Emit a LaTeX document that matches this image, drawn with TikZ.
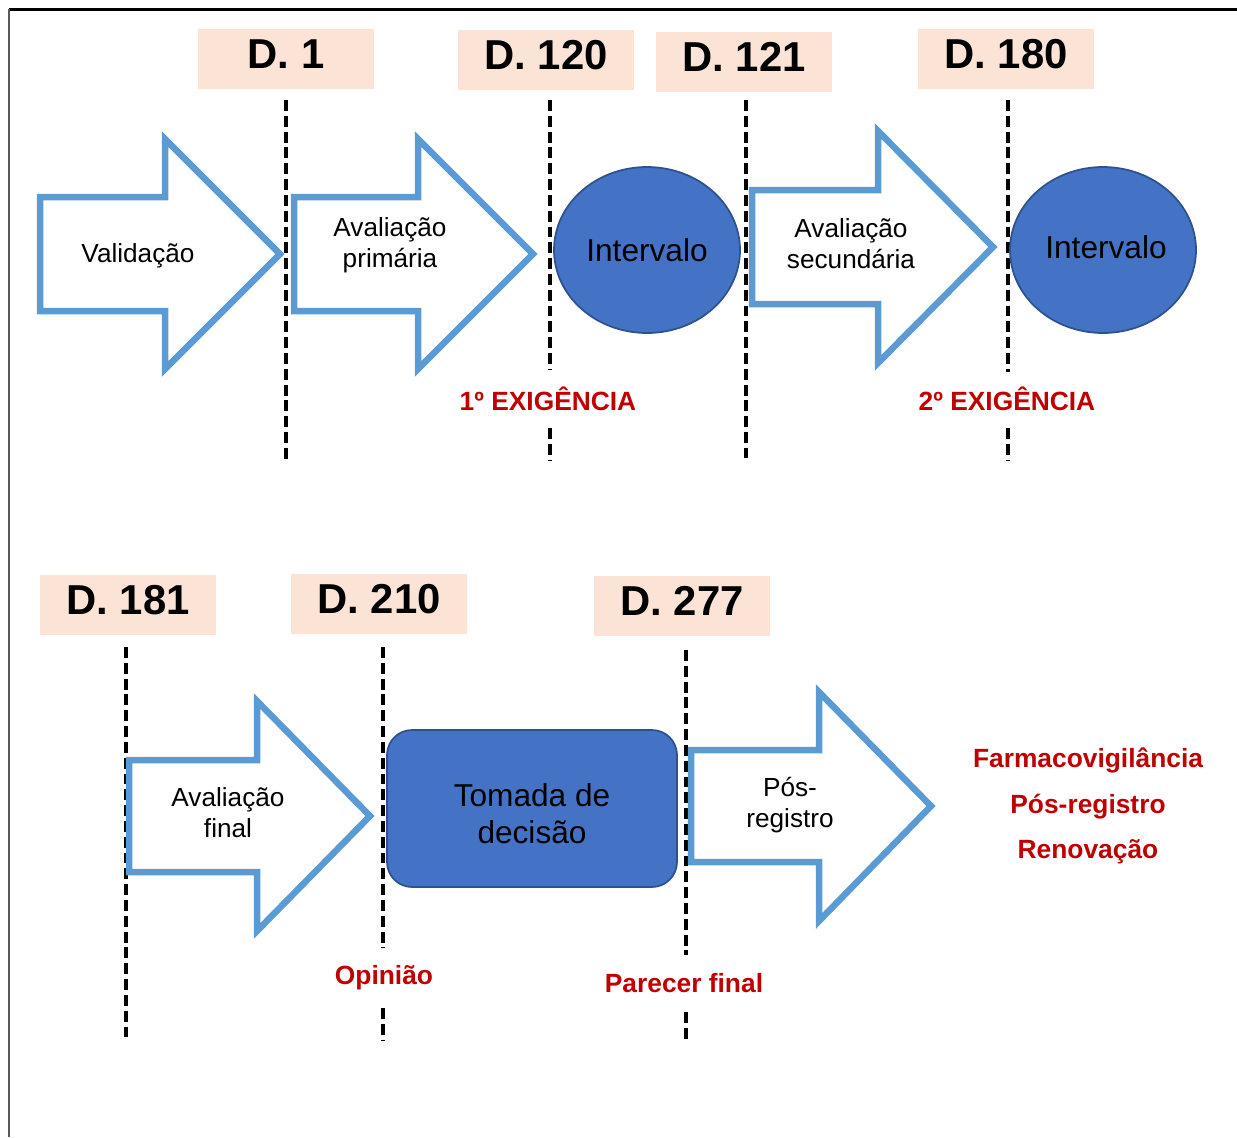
\documentclass[tikz,border=0pt]{standalone}
\usepackage{fontspec}
\setmainfont{Liberation Sans}
\usetikzlibrary{shapes.geometric}
\definecolor{arrowblue}{HTML}{5B9BD5}
\definecolor{fillblue}{HTML}{4472C4}
\definecolor{edgeblue}{HTML}{2F528F}
\definecolor{peach}{HTML}{FBE3D6}
\definecolor{darkred}{HTML}{C00000}
\begin{document}
\begin{tikzpicture}[x=0.02cm,y=-0.02cm,
  daybox/.style={fill=peach, minimum width=3.52cm, minimum height=1.2cm, inner sep=0pt,
    text depth=0.2cm, font=\fontsize{23.8}{28}\selectfont\bfseries},
  phase/.style={draw=arrowblue, line width=3.7pt, line join=miter, miter limit=10},
  phasetext/.style={align=center, font=\fontsize{14.9}{17.6}\selectfont},
  dline/.style={dash pattern=on 6.2pt off 2.8pt, line width=2pt},
  note/.style={text=darkred, align=center, font=\fontsize{15}{26}\selectfont\bfseries},
  blob/.style={ellipse, fill=fillblue, draw=edgeblue, line width=1pt,
    minimum width=3.72cm, minimum height=3.32cm, inner sep=0pt,
    font=\fontsize{18}{21}\selectfont}
]
\useasboundingbox (0,0) rectangle (1237,1137);

% outer frame (top and left edges)
\draw[line width=1.7pt] (9,9) -- (1237,9);
\draw[line width=1.1pt, black!65] (9,9) -- (9,1137);

% ---------- first row ----------
\node[daybox] (d1)   at (286,59)   {D. 1};
\node[daybox] (d120) at (546,60)   {D. 120};
\node[daybox] (d121) at (744,61.5) {D. 121};
\node[daybox] (d180) at (1006,59)  {D. 180};

\coordinate (d1t) at (286,100);   \coordinate (d1b) at (286,460);
\coordinate (d120t) at (550,100); \coordinate (d120m) at (550,370);
\coordinate (d120n) at (550,428); \coordinate (d120b) at (550,460);
\coordinate (d121t) at (746,100); \coordinate (d121b) at (746,458);
\coordinate (d180t) at (1008,100); \coordinate (d180m) at (1008,372);
\coordinate (d180n) at (1008,428); \coordinate (d180b) at (1008,460);

\draw[dline] (d1t) -- (d1b);
\draw[dline] (d120t) -- (d120m);
\draw[dline] (d120n) -- (d120b);
\draw[dline] (d121t) -- (d121b);
\draw[dline] (d180t) -- (d180m);
\draw[dline] (d180n) -- (d180b);

\draw[phase] (40,197) -- (165,197) -- (165,139) -- (280,254) -- (165,369) -- (165,311) -- (40,311) -- cycle;
\node[phasetext] (validacao) at (138,256) {Validação};

\draw[phase] (294,197) -- (418,197) -- (418,139) -- (533,254) -- (418,369) -- (418,311) -- (294,311) -- cycle;
\node[phasetext] (primaria) at (390,245) {Avaliação\\primária};

\node[blob] (int1) at (647,250) {Intervalo};

\draw[phase] (752,190) -- (878,190) -- (878,131) -- (993,247) -- (878,363) -- (878,304) -- (752,304) -- cycle;
\node[phasetext] (secundaria) at (851,244) {Avaliação\\secundária};

\node[blob] (int2) at (1103,250) {};
\node[font=\fontsize{18}{21}\selectfont] (int2txt) at (1106,247) {Intervalo};

\node[note] (ex1) at (548,399) {1º EXIGÊNCIA};
\node[note] (ex2) at (1007,399) {2º EXIGÊNCIA};

% ---------- second row ----------
\node[daybox] (d181) at (128,605) {D. 181};
\node[daybox] (d210) at (379,604) {D. 210};
\node[daybox] (d277) at (682,606) {D. 277};

\coordinate (d181t) at (126,647); \coordinate (d181b) at (126,1042);
\coordinate (d210t) at (383,647); \coordinate (d210m) at (383,948);
\coordinate (d210n) at (383,1008); \coordinate (d210b) at (383,1040);
\coordinate (d277t) at (686,650); \coordinate (d277m) at (686,955);
\coordinate (d277n) at (686,1012); \coordinate (d277b) at (686,1040);

\draw[dline] (d181t) -- (d181b);
\draw[dline] (d210t) -- (d210m);
\draw[dline] (d210n) -- (d210b);
\draw[dline] (d277t) -- (d277m);
\draw[dline] (d277n) -- (d277b);

\draw[phase] (129,760) -- (257,760) -- (257,701) -- (370,816) -- (257,931) -- (257,872) -- (129,872) -- cycle;
\node[phasetext] (final) at (228,813) {Avaliação\\final};

\node[fill=fillblue, draw=edgeblue, line width=1pt, rounded corners=0.5cm,
  minimum width=5.8cm, minimum height=3.14cm, inner sep=0pt] (decisao) at (532,808.5) {};
\node[align=center, font=\fontsize{18}{21}\selectfont] (decisaotxt) at (532,813.5) {Tomada de\\decisão};

\draw[phase] (691,750) -- (819,750) -- (819,692) -- (931,806) -- (819,921) -- (819,862) -- (691,862) -- cycle;
\node[phasetext] (pos) at (790,805) {Pós-\\registro};

\node[note] (opiniao) at (384,978) {Opinião};
\node[note] (parecer) at (684,983) {Parecer final};
\node[note] (apos) at (1088,806) {Farmacovigilância\\Pós-registro\\Renovação};

\end{tikzpicture}
\end{document}
